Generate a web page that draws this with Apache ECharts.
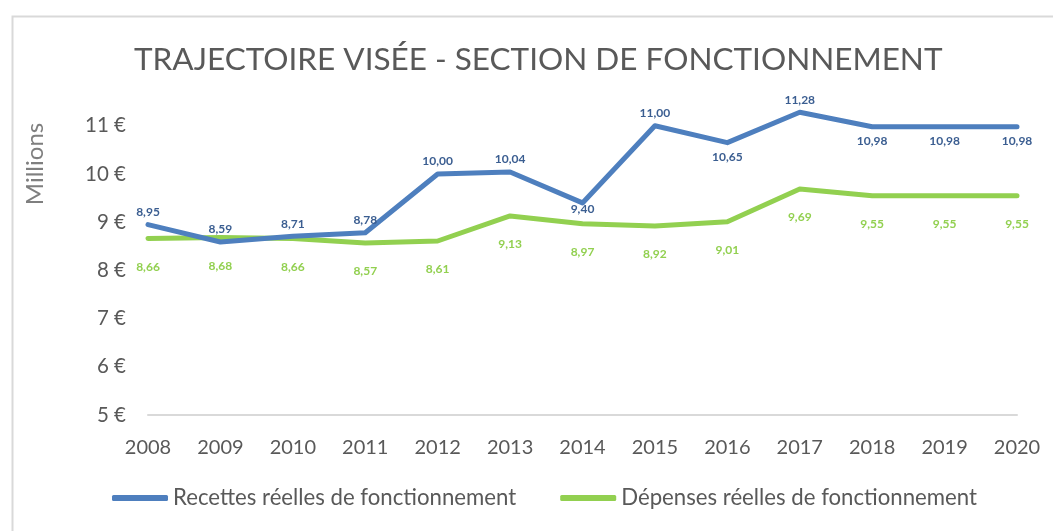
<!DOCTYPE html>
<html>
<head>
<meta charset="utf-8">
<script src="https://cdn.jsdelivr.net/npm/echarts@6/dist/echarts.min.js"></script>
<style>
  html, body { margin: 0; padding: 0; background: #fff; }
  #chart { width: 1053px; height: 531px; }
</style>
</head>
<body>
<div id="chart"></div>
<script>
const years = ['2008', '2009', '2010', '2011', '2012', '2013', '2014', '2015', '2016', '2017', '2018', '2019', '2020']
const recettes = [8.95, 8.59, 8.71, 8.78, 10.00, 10.04, 9.40, 11.00, 10.65, 11.28, 10.98, 10.98, 10.98]
const depenses = [8.66, 8.68, 8.66, 8.57, 8.61, 9.13, 8.97, 8.92, 9.01, 9.69, 9.55, 9.55, 9.55]
const yTicks = [5, 6, 7, 8, 9, 10, 11]

const textGrey = '#595959'
const blue = '#4E7FBE'
const green = '#92D050'
const font = 'Lato, "Open Sans", sans-serif'

// indices where the blue label sits under the line
const blueBelow = [6, 8, 10, 11, 12]

const fmt = (v) => v.toFixed(2).replace('.', ',')

const chart = echarts.init(document.getElementById('chart'))

const option = {
  animation: false,
  backgroundColor: '#fff',
  textStyle: { fontFamily: font },
  title: {
    text: 'TRAJECTOIRE VISÉE - SECTION DE FONCTIONNEMENT',
    left: 129,
    top: 39,
    textStyle: { color: textGrey, fontSize: 31.5, fontWeight: 'normal', fontFamily: font }
  },
  graphic: [
    {
      type: 'rect',
      left: 10, top: 14,
      shape: { width: 1100, height: 600 },
      style: { fill: 'none', stroke: '#d9d9d9', lineWidth: 2 },
      silent: true
    },
    {
      type: 'text',
      x: 35, y: 164,
      rotation: Math.PI / 2,
      style: {
        text: 'Millions',
        fill: '#7f7f7f',
        font: '24px ' + font,
        textAlign: 'center',
        textVerticalAlign: 'middle'
      }
    }
  ],
  legend: {
    bottom: 17,
    left: 107,
    itemGap: 44,
    itemWidth: 56,
    itemHeight: 6,
    icon: 'roundRect',
    textStyle: { color: textGrey, fontSize: 22.2, fontFamily: font },
    data: ['Recettes réelles de fonctionnement', 'Dépenses réelles de fonctionnement']
  },
  grid: { left: 148, right: 36, top: 77.6, bottom: 116 },
  xAxis: {
    type: 'category',
    data: years,
    boundaryGap: false,
    axisLine: { lineStyle: { color: '#d9d9d9', width: 2 } },
    axisTick: { show: false },
    axisLabel: { color: textGrey, fontSize: 20, margin: 23 }
  },
  yAxis: {
    type: 'value',
    min: 5,
    max: 12,
    interval: 1,
    splitLine: { show: false },
    axisLine: { show: false },
    axisTick: { show: false },
    axisLabel: {
      color: textGrey,
      fontSize: 20.5,
      margin: 22,
      formatter: (v) => (yTicks.includes(v) ? v + ' €' : '')
    }
  },
  series: [
    {
      name: 'Recettes réelles de fonctionnement',
      type: 'line',
      data: recettes.map((v, i) => ({
        value: v,
        label: blueBelow.includes(i)
          ? { position: 'bottom', distance: i === 6 ? 0 : 8 }
          : { position: 'top', distance: 6 }
      })),
      symbol: 'circle',
      symbolSize: 1,
      itemStyle: { color: blue },
      lineStyle: { color: blue, width: 5, cap: 'round', join: 'round' },
      label: {
        show: true,
        color: '#3B5E91',
        fontSize: 12,
        fontWeight: 'bold',
        formatter: (p) => fmt(p.value)
      },
      z: 3
    },
    {
      name: 'Dépenses réelles de fonctionnement',
      type: 'line',
      data: depenses,
      symbol: 'circle',
      symbolSize: 1,
      itemStyle: { color: green },
      lineStyle: { color: green, width: 5, cap: 'round', join: 'round' },
      label: {
        show: true,
        position: 'bottom',
        distance: 22,
        color: green,
        fontSize: 12,
        fontWeight: 'bold',
        formatter: (p) => fmt(p.value)
      },
      z: 2
    }
  ]
}

chart.setOption(option)
window.addEventListener('resize', () => chart.resize())
</script>
</body>
</html>
